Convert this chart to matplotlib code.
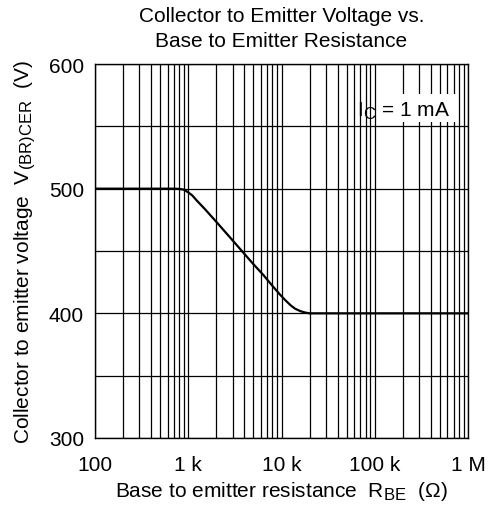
import matplotlib
matplotlib.use("Agg")
import matplotlib.pyplot as plt
from matplotlib.patches import Rectangle
from matplotlib.ticker import FixedLocator, LogLocator, NullFormatter

try:
    import matplotlib._mathtext as _mt
    _mt.SHRINK_FACTOR = 0.8
except Exception:
    pass

plt.rcParams['font.family'] = ['Liberation Sans', 'DejaVu Sans']
plt.rcParams['mathtext.fontset'] = 'custom'
plt.rcParams['mathtext.rm'] = 'Liberation Sans'
plt.rcParams['mathtext.it'] = 'Liberation Sans'

r_be = [100, 700, 800, 900, 1000, 1100, 1230, 1500, 2000, 3000, 4000, 5000, 6380,
        8000, 9640, 11000, 12500, 14000, 16000, 18000, 20000, 1e6]
v_cer = [500, 500, 499.8, 499.2, 497, 494.7, 490.6, 483.8, 473.4, 458.4, 447.7, 439.4, 430.8,
         422, 415, 410.5, 406.5, 403.7, 401.7, 400.6, 400, 400]

x_ticks = [100, 1e3, 1e4, 1e5, 1e6]
x_labels = ["100", "1 k", "10 k", "100 k", "1 M"]
y_ticks = [300, 400, 500, 600]
y_grid = [300, 350, 400, 450, 500, 550, 600]

FS = 15
W, H = 500, 510
fig = plt.figure(figsize=(5.0, 5.1), dpi=100)
ax = fig.add_axes([95/W, 1-439/H, 373/W, 374/H])
ax.set_xscale('log')
ax.set_xlim(100, 1e6)
ax.set_ylim(300, 600)
ax.set_axisbelow(True)

ax.xaxis.set_major_locator(FixedLocator(x_ticks))
ax.set_xticklabels(x_labels)
ax.xaxis.set_minor_locator(LogLocator(base=10, subs=range(2, 10)))
ax.xaxis.set_minor_formatter(NullFormatter())
ax.set_yticks(y_ticks)
ax.yaxis.set_minor_locator(FixedLocator(y_grid))
ax.tick_params(which='both', length=0, labelsize=FS)
ax.tick_params(axis='x', pad=12)
ax.tick_params(axis='y', pad=8)
ax.grid(True, which='both', axis='both', color='black', lw=0.9)
for s in ax.spines.values():
    s.set_linewidth(1.0)

ax.plot(r_be, v_cer, color='black', lw=1.6, zorder=3)

ax.add_patch(Rectangle((0.764, 0.845), 0.209, 0.075, transform=ax.transAxes,
                       facecolor='white', edgecolor='none', zorder=1))
ax.text(0.952, (439-116.5)/374, r"I$_\mathrm{C}$ = 1 mA", transform=ax.transAxes, ha='right',
        va='baseline', fontsize=FS, zorder=4)

cx = (95 + 468) / 2 / W
fig.text(cx, 1 - 21.5/H, "Collector to Emitter Voltage vs.", ha='center', va='baseline', fontsize=FS)
fig.text(cx, 1 - 47/H, "Base to Emitter Resistance", ha='center', va='baseline', fontsize=FS)

ax.set_xlabel(r"Base to emitter resistance  R$_\mathrm{BE}$  ($\Omega$)", fontsize=FS, va='baseline')
ax.xaxis.set_label_coords(0.5, -(497-439)/374)
ax.set_ylabel(r"Collector to emitter voltage  V$_\mathrm{(BR)CER}$  (V)", fontsize=FS,
              va='baseline', ha='center', rotation_mode='anchor')
ax.yaxis.set_label_coords(-(95-30)/373, 0.5)

fig.savefig("out.png", dpi=100)
